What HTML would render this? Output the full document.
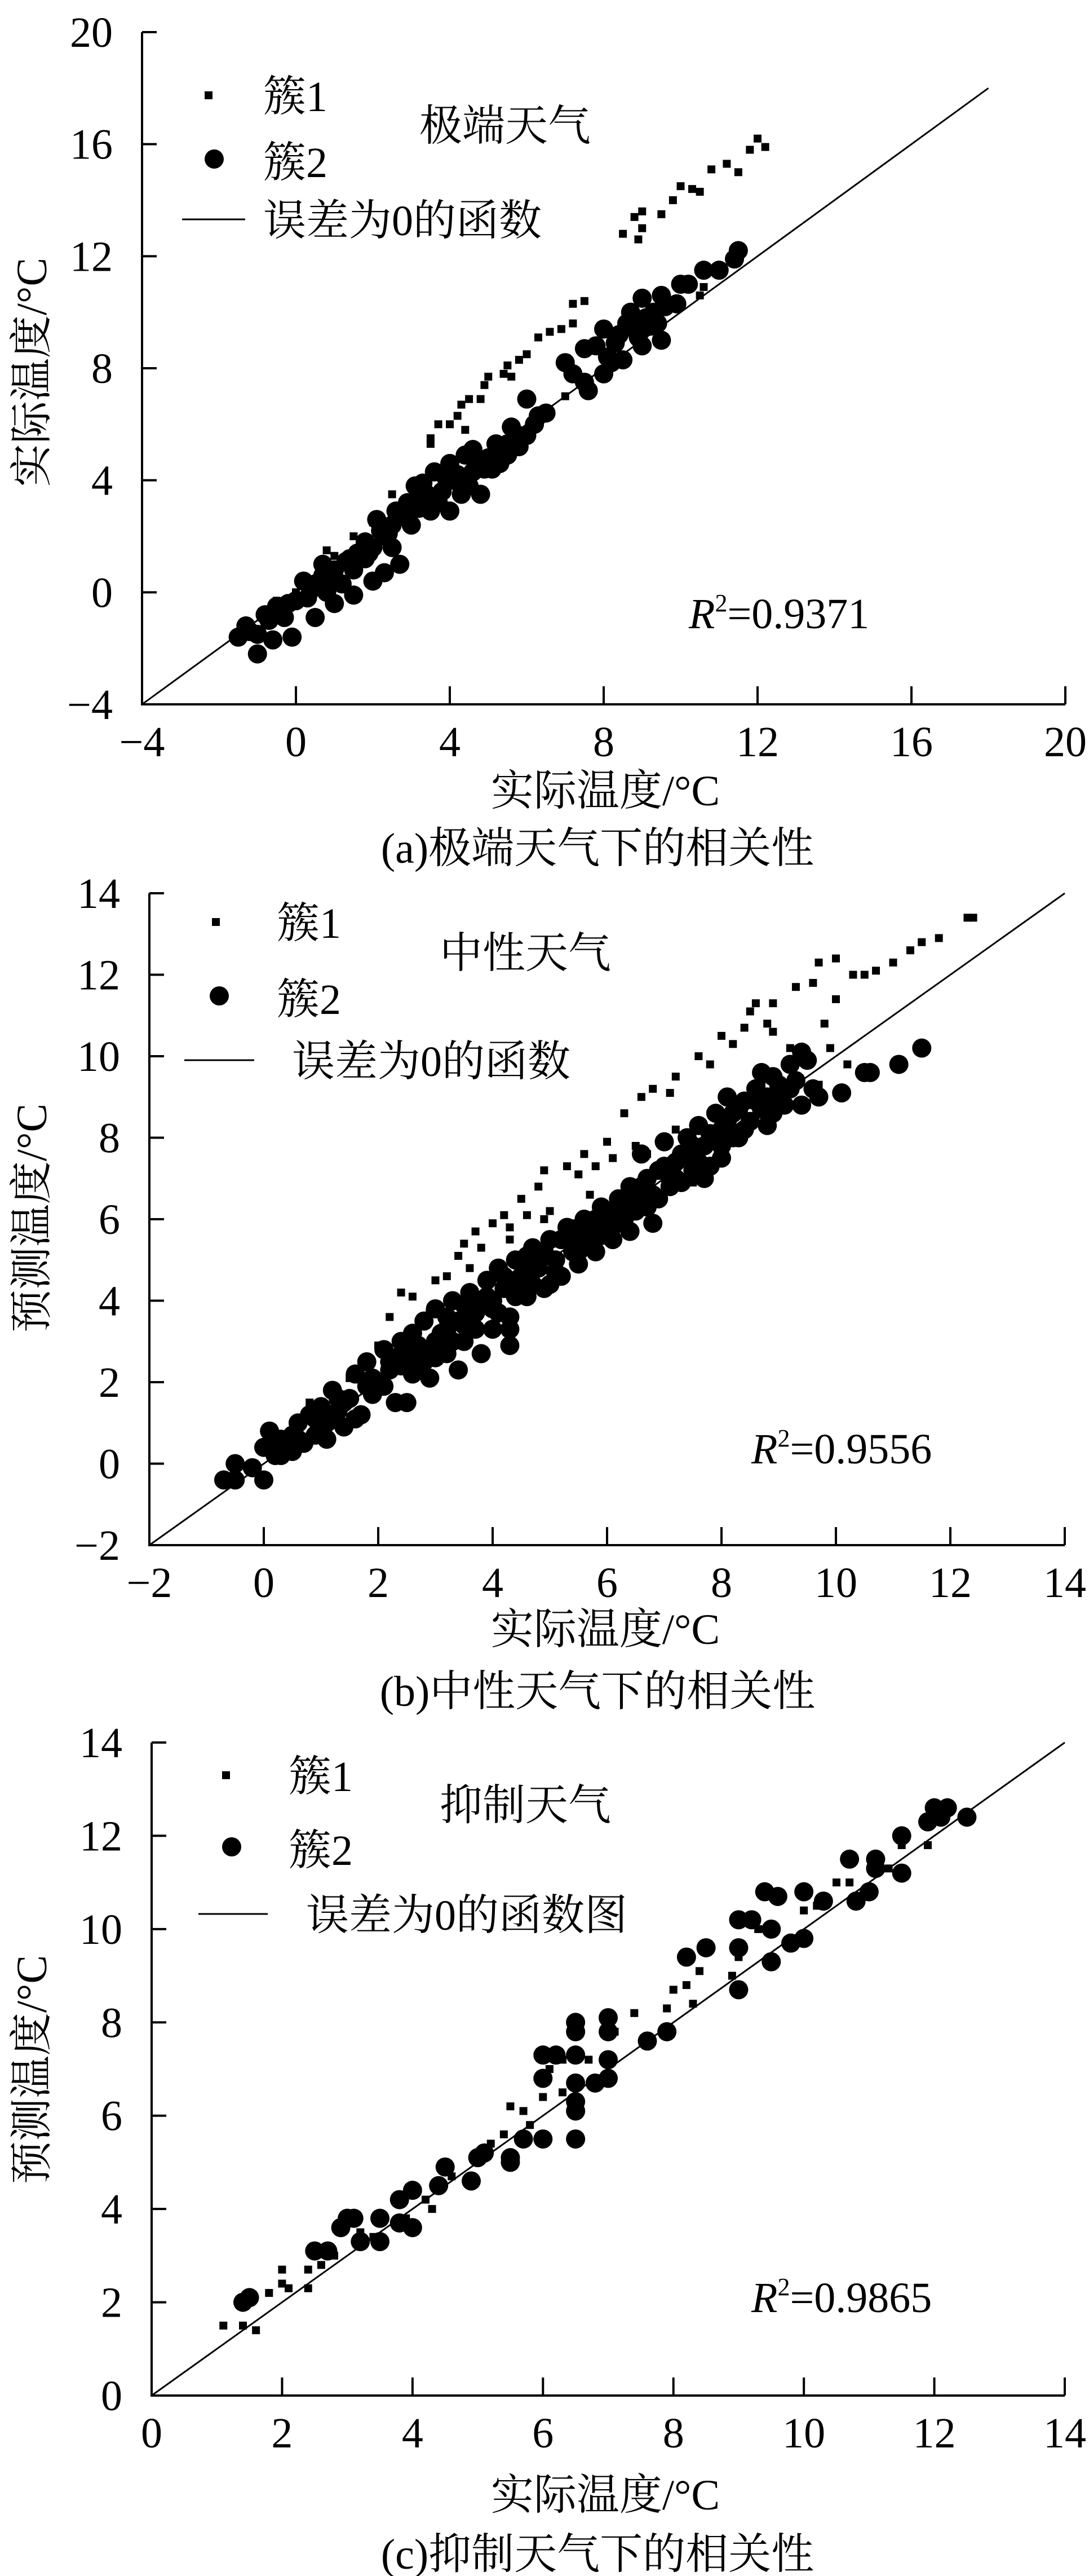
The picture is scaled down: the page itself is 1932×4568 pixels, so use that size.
<!DOCTYPE html>
<html><head><meta charset="utf-8"><style>
html,body{margin:0;padding:0;background:#fff;}
svg{display:block;}
text{font-family:"Liberation Serif","Noto Serif CJK SC","Noto Sans CJK SC",serif;fill:#000;}
</style></head><body>
<svg id="fig" width="1932" height="4568" viewBox="0 0 1932 4568" xmlns="http://www.w3.org/2000/svg"></svg>
<script>
// ---- Chart (a) data ----
const aCluster1X = [3.5,3.7,4,4.2,4.3,4.5,4.8,4.9,5,5.4,5.6,5.8,6,6.3,6.6,6.9,7.2,7.5,7.2,5.5,8.5,8.8,9,9.5,9.8,10,10.3,10.5,10.8,11.2,11.5,11.8,12,12.2,8.9,9,3.5,4.4,1.5,2,2.5,1,0.8,10.5,10.6,7,6.5,0,-0.5,3,3.2];
const aCluster1Y = [5.5,6,6,6.3,6.7,6.9,6.9,7.4,7.7,7.8,7.7,8.3,8.5,9.1,9.3,9.4,10.3,10.4,9.6,8.1,12.8,13.4,13.6,13.5,14,14.5,14.4,14.3,15.1,15.3,15,15.8,16.2,15.9,12.6,13,5.3,5.8,2,2.5,3.5,1.3,1.5,10.6,10.9,7,6.5,0,-0.3,3.2,3.8];
const aCluster2X = [-1.5,-1.3,-1,-1,-0.8,-0.6,-0.5,-0.3,-0.1,0,0.2,0.3,0.5,0.5,0.7,0.8,1,1,1.2,1.3,1.5,1.5,1.6,1.8,2,2,2.1,2.3,2.3,2.5,2.5,2.7,2.8,2.9,3,3.1,3.2,3.4,3.5,3.6,3.8,4,4,4.1,4.3,4.4,4.6,4.8,4.9,5,5.2,5.3,5.5,5.6,5.8,6,6,6.2,6.5,7,7.2,7.5,7.5,7.6,8,8,8.1,8.3,8.5,8.6,8.7,8.9,9,9,9.2,9.3,9.5,9.5,9.6,9.9,10,10.2,10.6,11,11.4,11.5,8.8,8.4,7.8,3.3,2.2,1.8,0.7,4.6,4.2,3,5.8,5.4,-1.2,-0.7,-0.2,0.4,0.9,1.4,1.9,2.4,2.6,3.2,3.7,3.9,4.5,4.7,5.1,5.5,6.3,8.2,8.8,9.1,9.4];
const aCluster2Y = [-1.6,-1.2,-1.5,-2.2,-0.8,-1.7,-0.5,-0.9,-1.6,-0.3,0.4,-0.2,-0.9,0.3,0.6,0,-0.4,0.8,0.3,1.1,-0.1,0.8,1.4,1.2,0.4,1.6,2.6,0.7,2,2.4,1.6,1,2.7,3.2,2.4,3.8,3,3.5,2.9,4.3,3.6,2.9,4.6,4,3.5,4.9,4.3,3.5,4.4,4.8,5.3,4.6,5.3,5.9,5.2,5.6,6.9,6,6.4,8.2,7.8,7.5,8.7,7.2,7.8,9.4,8.4,8.9,8.3,9.6,10,9.1,8.8,10.5,9.5,10,9,10.6,10.2,10.3,11,11,11.5,11.5,11.9,12.2,9.8,9.2,8.8,3.9,2.2,1.8,1,5.1,4.2,3,5.6,5.1,-1.4,-1,-0.4,0.1,0.4,1.2,1.4,2.1,2.9,3.4,3.2,4.1,3.8,4.7,4.4,4.9,6.3,8.2,9.4,9.8,9.6];
const aTicks = [-4,0,4,8,12,16,20];

// ---- Chart (b) data ----
const bCluster1X = [2.2,2.4,2.6,3,3.2,3.4,3.5,3.7,3.8,4,4.2,4.3,4.5,4.6,4.8,4.9,5,5.3,5.5,5.6,5.8,6,6.1,6.3,6.5,6.6,6.8,7.1,7.2,7.6,7.8,8,8.2,8.4,8.5,8.6,8.8,8.9,8.9,9.2,9.3,9.6,9.7,9.8,10,10,10.3,10.5,10.7,11,11.3,11.5,11.8,12.3,12.4,9.7,9.9,10.2,8.7,7.2,6.7,5.7,4.9,4.3,0.1,0.8,1.5,2,2.9,6.9,7.5,5.4,3.6,1.2,0.4];
const bCluster1Y = [3.6,4.2,4.1,4.5,4.6,5.1,5.4,5.7,5.3,5.9,6.1,5.8,6.5,6.1,6.8,7.2,6.2,7.3,7.1,7.6,7.3,7.9,7.5,8.6,7.8,9,9.2,9.1,9.5,10,9.8,10.5,10.3,10.7,11.1,11.3,10.8,10.6,11.3,10.2,11.7,11.8,12.3,10.8,12.4,11.4,12,12,12.1,12.3,12.6,12.8,12.9,13.4,13.4,9.3,10.2,9.8,9.3,8.2,7.6,6.6,6,5.5,0.9,1.5,2.1,2.9,3.7,7.1,6.9,5.9,4.8,1.9,0.7];
const bCluster2X = [-0.7,-0.5,-0.5,-0.2,0,0,0.1,0.2,0.3,0.5,0.6,0.7,0.8,0.9,1,1.1,1.2,1.3,1.4,1.5,1.6,1.7,1.8,1.9,2,2.1,2.2,2.3,2.4,2.5,2.5,2.6,2.7,2.8,2.9,2.9,3,3.1,3.2,3.3,3.4,3.4,3.5,3.6,3.7,3.8,3.9,4,4,4.1,4.2,4.3,4.3,4.4,4.5,4.6,4.7,4.8,4.9,5,5.1,5.2,5.3,5.4,5.5,5.6,5.7,5.8,5.9,6,6.1,6.2,6.3,6.4,6.5,6.6,6.7,6.8,6.9,7,7.1,7.2,7.3,7.4,7.5,7.6,7.7,7.8,7.9,8,8,8.1,8.2,8.3,8.4,8.5,8.6,8.7,8.8,8.9,9,9.1,9.3,9.4,9.5,9.6,9.7,10.1,10.5,10.6,11.1,11.5,9.4,9.2,8.7,7.5,6.9,6.2,5.5,4.8,4.4,3.6,3,2.4,1.8,1.2,0.6,4,5,3.2,2.8,3.8,5.8,6.6,7.2,8.2,4.3,
  0.3,0.5,0.9,1.1,1.4,1.6,1.9,2.1,2.3,2.6,2.7,3,3.2,3.3,3.5,3.7,3.9,4.1,4.2,4.4,4.6,4.7,4.9,5.1,5.2,5.4,5.5,5.7,5.9,6,6.2,6.3,6.5,6.7,6.8,7,7.1,7.3,7.5,7.6,7.8,8,8.1,8.3,8.4,8.6,8.8,9,9.2,8.9,7.7,6.4,5.6,4.5,3.5,2.2,1.3,0.2,2.6,4.6];
const bCluster2Y = [-0.4,0,-0.4,-0.1,-0.4,0.4,0.8,0.2,0.6,0.3,1,0.5,1.2,0.7,1.4,1,1.8,1.3,0.9,1.6,2.2,1.2,2.5,1.7,2,2.8,2.3,1.5,3,2.6,1.5,3.2,2.4,3.5,2.8,2.1,3.8,3.2,2.7,4,3.5,2.3,3,4.2,3.7,2.7,4.5,4,3.3,4.8,4.3,3.6,3.3,5,4.6,4.1,5.3,4.8,4.3,5.5,5,4.6,5.8,5.2,4.9,6,5.5,5.2,6.3,5.8,5.5,6.5,6,5.7,6.6,7.6,6.3,5.9,7.2,7.9,6.8,7.4,6.9,8,7.5,8.3,7.8,7.3,8.6,8.2,7.5,9,8.6,8,8.9,8.4,9.2,8.7,8.3,9.5,9,8.8,9.4,8.8,9.9,9.2,9,9.1,9.6,9.6,9.8,10.2,10.1,9.8,9.6,7.2,6.5,6.2,5.5,5,4.5,3.6,3,2.4,1.9,1.2,0.6,3.8,4.4,3.3,2.5,4,6,6.8,7,8,2.9,
  0.2,0.7,1.1,0.6,1.5,1.1,2.1,1.9,2.6,2.2,2.9,2.6,3.6,3,3.9,3.3,4.1,3.7,4.6,4.1,4.8,4.4,5.2,4.7,5.5,5.6,5.2,5.9,5.6,6.2,5.9,6.5,6.2,7,6.6,7.3,7,7.6,7.8,7.4,8.1,7.8,8.4,8.7,8.2,8.9,9,9.3,9.2,8.6,7,6.8,5.8,4.3,3.4,2.5,1.6,0.5,2.9,5.1];
const bTicks = [-2,0,2,4,6,8,10,12,14];

// ---- Chart (c) data ----
const cCluster1X = [1.1,1.4,1.6,1.8,2,2,2.1,2.4,2.4,2.6,2.8,3.2,3.4,3.9,4.2,4.3,4.6,4.9,5.2,5.4,5.5,5.7,5.8,6,6.1,6.3,6.3,6.7,7.1,7.4,7.9,8,8.2,8.3,8.4,8.9,9,9.3,9.5,10,10.2,10.5,10.7,11.3,11.5,11.9,12.2];
const cCluster1Y = [1.5,1.5,1.4,2.2,2.4,2.7,2.3,2.3,2.7,2.8,3,3.5,3.4,3.8,4.2,4,4.7,4.5,5.4,5.6,6.2,6.1,5.8,6.4,7,6.5,7.2,7.2,7.8,8.2,8.3,8.7,8.8,8.4,9.1,9,9.4,10,9.9,10.4,10.5,11,11,11.3,11.8,11.8,12.5];
const cCluster2X = [1.4,1.5,2.5,2.7,2.9,3,3.1,3.2,3.5,3.5,3.8,3.8,4,4,4.4,4.5,4.9,5,5.1,5.5,5.5,5.7,6,6,6,6.2,6.5,6.5,6.5,6.5,6.5,6.5,6.5,7,7,7,7,6.8,7.6,7.9,8.2,8.5,9,9,9,9.2,9.4,9.5,9.5,9.6,9.8,10,10,10.3,10.7,10.8,11,11.1,11.1,11.5,11.5,11.9,12,12.1,12.2,12.5];
const cCluster2Y = [2,2.1,3.1,3.1,3.6,3.8,3.8,3.3,3.8,3.3,4.2,3.7,3.6,4.4,4.5,4.9,4.6,5.1,5.2,5.1,5,5.5,6.8,7.3,5.5,7.3,8,7.8,7.3,6.7,6.3,6.1,5.5,8.1,7.8,7.2,6.8,6.7,7.6,7.8,9.4,9.6,10.2,9.6,8.7,10.2,10.8,9.3,10,10.7,9.7,10.8,9.8,10.6,11.5,10.6,10.8,11.5,11.3,12,11.2,12.3,12.6,12.4,12.6,12.4];
const cTicks = [0,2,4,6,8,10,12,14];

const NS = "http://www.w3.org/2000/svg";
const svg = document.getElementById('fig');
function mk(tag, attrs, parent){ const e=document.createElementNS(NS,tag); for(const k in attrs) e.setAttribute(k,attrs[k]); (parent||svg).appendChild(e); return e; }
function fmt(v){ return v<0 ? "\u2212"+Math.abs(v) : String(v); }

function drawChart(cfg){
  const g = mk('g',{});
  
  
  const sx = v => cfg.x0 + (v-cfg.min)/(cfg.max-cfg.min)*(cfg.x1-cfg.x0);
  const sy = v => cfg.y0 - (v-cfg.min)/(cfg.max-cfg.min)*(cfg.y0-cfg.y1);
  const ax = mk('path',{d:`M${cfg.x0},${cfg.y1} L${cfg.x0},${cfg.y0} L${cfg.x1},${cfg.y0}`,fill:'none',stroke:'#000','stroke-width':4},g);
  
  
  cfg.ticks.forEach(t=>{
    const xt = mk('line',{x1:sx(t),x2:sx(t),y1:cfg.y0,y2:cfg.y0-32,stroke:'#000','stroke-width':4},g);
    
    
    const xl = mk('text',{x:sx(t),y:cfg.y0+92,'text-anchor':'middle','font-size':76},g);
    xl.textContent = fmt(t);
    
    
    const yt = mk('line',{x1:cfg.x0,x2:cfg.x0+26,y1:sy(t),y2:sy(t),stroke:'#000','stroke-width':4},g);
    
    
    const yl = mk('text',{x:cfg.x0-52,y:sy(t)+26,'text-anchor':'end','font-size':76},g);
    yl.textContent = fmt(t);
    
    
  });
  const ln = mk('line',{x1:sx(cfg.min),y1:sy(cfg.min),x2:sx(cfg.lineEnd),y2:sy(cfg.lineEnd),stroke:'#000','stroke-width':3},g);
  
  
  cfg.c2x.forEach((xv,i)=>{
    const c = mk('circle',{cx:sx(xv),cy:sy(cfg.c2y[i]),r:17,fill:'#000'},g);
    
    
  });
  cfg.c1x.forEach((xv,i)=>{
    const r = mk('rect',{x:sx(xv)-7,y:sy(cfg.c1y[i])-7,width:14,height:14,fill:'#000'},g);
    
    
  });
  const L = cfg.leg;
  const s1 = mk('rect',{x:L.sqx-7,y:L.sqy-7,width:14,height:14,fill:'#000'},g);
  
  
  const t1 = mk('text',{x:L.tx,y:L.sqy+28,'font-size':76},g); t1.textContent='簇1';
  
  
  const s2 = mk('circle',{cx:L.cx,cy:L.cy,r:17,fill:'#000'},g);
  
  
  const t2 = mk('text',{x:L.tx,y:L.cy+32,'font-size':76},g); t2.textContent='簇2';
  
  
  const s3 = mk('line',{x1:L.lx1,x2:L.lx2,y1:L.ly,y2:L.ly,stroke:'#000','stroke-width':3},g);
  
  
  const t3 = mk('text',{x:L.ltx,y:L.ly+28,'font-size':76},g); t3.textContent=cfg.lineLabel;
  
  
  const wt = mk('text',{x:L.wx,y:L.wy+28,'font-size':76},g); wt.textContent=cfg.weather;
  
  
  const rt = mk('text',{x:cfg.r2x,y:cfg.r2y,'font-size':76},g);
  
  
  const ri = mk('tspan',{'font-style':'italic'},rt); ri.textContent='R';
  const rs = mk('tspan',{'font-size':44,dy:-30},rt); rs.textContent='2';
  const rv = mk('tspan',{dy:30},rt); rv.textContent='='+cfg.r2;
  const xtl = mk('text',{x:cfg.xtx,y:cfg.xty,'text-anchor':'middle','font-size':76},g); xtl.textContent='实际温度/°C';
  
  
  const ytl = mk('text',{x:0,y:0,'text-anchor':'middle','font-size':76,transform:`translate(82,${cfg.yty}) rotate(-90)`},g); ytl.textContent=cfg.yTitle;
  
  
  const cap = mk('text',{x:cfg.capx,y:cfg.capy,'text-anchor':'middle','font-size':76},g); cap.textContent=cfg.caption;
  
  
}

drawChart({name:'chart-a-extreme',min:-4,max:20,x0:252,x1:1890,y0:1249,y1:57,ticks:aTicks,lineEnd:18,
  c1x:aCluster1X,c1y:aCluster1Y,c2x:aCluster2X,c2y:aCluster2Y,
  leg:{sqx:370,sqy:169,cx:380,cy:282,tx:467,lx1:323,lx2:435,ly:389,ltx:467,wx:744,wy:221},
  lineLabel:'误差为0的函数',weather:'极端天气',r2x:1222,r2y:1114,r2:'0.9371',
  xtx:1074,xty:1428,yty:660,yTitle:'实际温度/°C',capx:1060,capy:1530,caption:'(a)极端天气下的相关性'});

drawChart({name:'chart-b-neutral',min:-2,max:14,x0:265,x1:1889,y0:2740,y1:1584,ticks:bTicks,lineEnd:14,
  c1x:bCluster1X,c1y:bCluster1Y,c2x:bCluster2X,c2y:bCluster2Y,
  leg:{sqx:383,sqy:1635,cx:389,cy:1766,tx:491,lx1:327,lx2:451,ly:1880,ltx:518,wx:780,wy:1688},
  lineLabel:'误差为0的函数',weather:'中性天气',r2x:1333,r2y:2595,r2:'0.9556',
  xtx:1074,xty:2915,yty:2160,yTitle:'预测温度/°C',capx:1060,capy:3025,caption:'(b)中性天气下的相关性'});

drawChart({name:'chart-c-suppressed',min:0,max:14,x0:269,x1:1889,y0:4248,y1:3090,ticks:cTicks,lineEnd:14,
  c1x:cCluster1X,c1y:cCluster1Y,c2x:cCluster2X,c2y:cCluster2Y,
  leg:{sqx:401,sqy:3148,cx:411,cy:3275,tx:512,lx1:352,lx2:475,ly:3394,ltx:543,wx:780,wy:3199},
  lineLabel:'误差为0的函数图',weather:'抑制天气',r2x:1333,r2y:4100,r2:'0.9865',
  xtx:1074,xty:4450,yty:3670,yTitle:'预测温度/°C',capx:1060,capy:4555,caption:'(c)抑制天气下的相关性'});
</script>
</body></html>
